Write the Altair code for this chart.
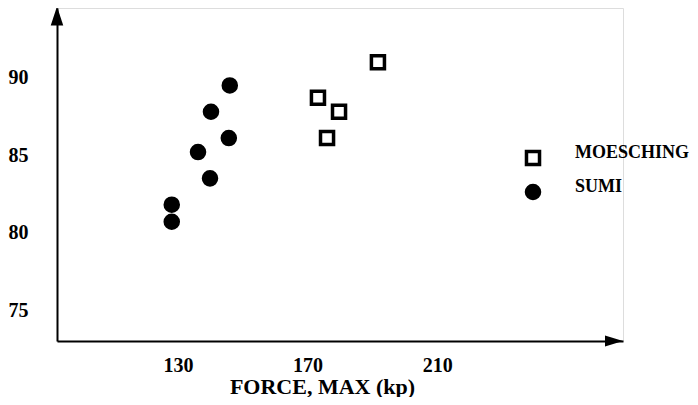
import altair as alt
import pandas as pd

# Data
moesching_x = [191.7, 173.2, 179.7, 176.0]
moesching_y = [91.0, 88.7, 87.8, 86.1]
sumi_x = [146.0, 140.2, 145.7, 136.2, 139.9, 128.1, 128.1]
sumi_y = [89.5, 87.8, 86.1, 85.2, 83.5, 81.8, 80.7]
groups = ["MOESCHING", "SUMI"]
x_ticks = [130, 170, 210]
y_ticks = [75, 80, 85, 90]
x_domain = [92.7, 267.3]
y_domain = [73.0, 94.5]

df = pd.DataFrame({
    "force": moesching_x + sumi_x,
    "value": moesching_y + sumi_y,
    "group": [groups[0]] * len(moesching_x) + [groups[1]] * len(sumi_x),
})

FONT = "Liberation Serif"

xscale = alt.Scale(domain=x_domain, nice=False, zero=False)
yscale = alt.Scale(domain=y_domain, nice=False, zero=False)

legend = alt.Legend(title=None, orient="none", legendX=467, legendY=141,
                    labelFont=FONT, labelFontWeight="bold", labelFontSize=18,
                    labelColor="black", labelOffset=33,
                    labelBaseline="alphabetic",
                    symbolSize=170, symbolStrokeWidth=3.5,
                    rowPadding=6, padding=0)

points = alt.Chart(df).mark_point(
    filled=True, strokeWidth=3.5, size=170, opacity=1
).encode(
    x=alt.X("force:Q", scale=xscale,
            axis=alt.Axis(values=x_ticks, title="FORCE, MAX (kp)", grid=False,
                          ticks=False, domainColor="black", domainWidth=2,
                          labelFont=FONT, labelFontWeight="bold", labelFontSize=20,
                          labelColor="black", labelPadding=14,
                          titleFont=FONT, titleFontWeight="bold", titleFontSize=22,
                          titleColor="black", titleX=265, titleY=45,
                          titleAlign="center", titleBaseline="middle")),
    y=alt.Y("value:Q", scale=yscale,
            axis=alt.Axis(values=y_ticks, title=None, grid=False, ticks=False,
                          domainColor="black", domainWidth=2,
                          labelFont=FONT, labelFontWeight="bold", labelFontSize=20,
                          labelColor="black", labelPadding=29)),
    shape=alt.Shape("group:N", scale=alt.Scale(domain=groups, range=["square", "circle"]),
                    legend=legend),
    fill=alt.Fill("group:N", scale=alt.Scale(domain=groups, range=["white", "black"]),
                  legend=legend),
    stroke=alt.Stroke("group:N", scale=alt.Scale(domain=groups, range=["black", "black"]),
                      legend=legend),
)

up_arrow = alt.Chart().mark_point(
    shape="M -0.66 1 L 0 -1 L 0.66 1 Z", filled=True, color="black", size=361, yOffset=8, opacity=1
).encode(x=alt.datum(x_domain[0]), y=alt.datum(y_domain[1]))

right_arrow = alt.Chart().mark_point(
    shape="M -1 -0.6 L 1 0 L -1 0.6 Z", filled=True, color="black", size=324, xOffset=-9, opacity=1
).encode(x=alt.datum(x_domain[1]), y=alt.datum(y_domain[0]))

chart = alt.layer(points, up_arrow, right_arrow).properties(
    width=566, height=333,
    autosize=alt.AutoSizeParams(type="none"),
    padding={"left": 49, "top": 0, "right": 67, "bottom": 56},
).configure_view(stroke=None).configure(background="white")

chart.save("out.html", embed_options={"renderer": "svg", "actions": False})
